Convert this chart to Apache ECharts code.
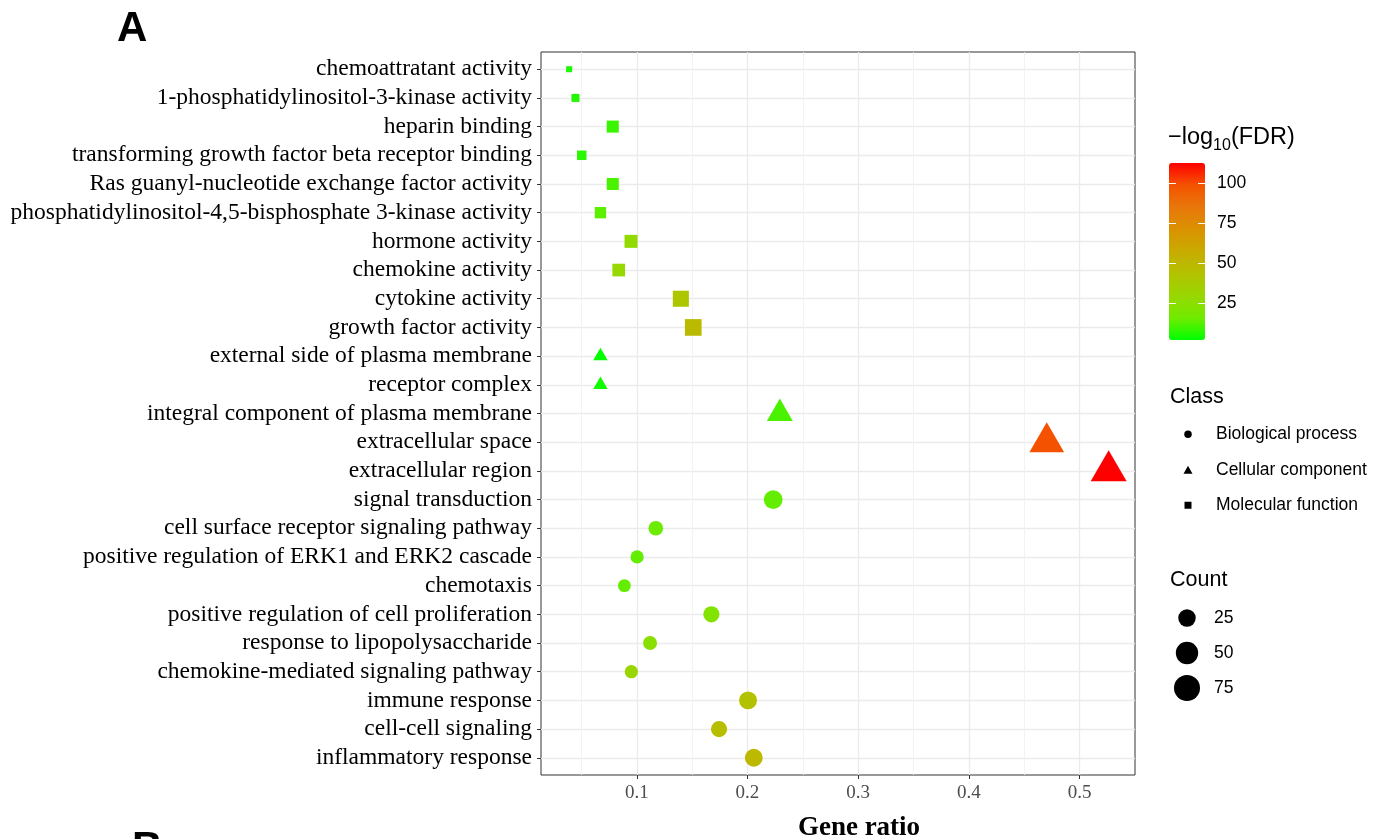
<!DOCTYPE html>
<html>
<head>
<meta charset="utf-8">
<script src="https://cdn.jsdelivr.net/npm/echarts@6.0.0/dist/echarts.min.js"></script>
<style>html,body{margin:0;padding:0;background:#fff;}#chart{width:1389px;height:839px;}</style>
</head>
<body>
<div id="chart"></div>
<script>
// ---- data (top row first) ----
const categories = [
  'chemoattratant activity',
  '1-phosphatidylinositol-3-kinase activity',
  'heparin binding',
  'transforming growth factor beta receptor binding',
  'Ras guanyl-nucleotide exchange factor activity',
  'phosphatidylinositol-4,5-bisphosphate 3-kinase activity',
  'hormone activity',
  'chemokine activity',
  'cytokine activity',
  'growth factor activity',
  'external side of plasma membrane',
  'receptor complex',
  'integral component of plasma membrane',
  'extracellular space',
  'extracellular region',
  'signal transduction',
  'cell surface receptor signaling pathway',
  'positive regulation of ERK1 and ERK2 cascade',
  'chemotaxis',
  'positive regulation of cell proliferation',
  'response to lipopolysaccharide',
  'chemokine-mediated signaling pathway',
  'immune response',
  'cell-cell signaling',
  'inflammatory response'
];
const classNames = ['Biological process', 'Cellular component', 'Molecular function'];
const classOf = [
  'Molecular function','Molecular function','Molecular function','Molecular function','Molecular function',
  'Molecular function','Molecular function','Molecular function','Molecular function','Molecular function',
  'Cellular component','Cellular component','Cellular component','Cellular component','Cellular component',
  'Biological process','Biological process','Biological process','Biological process','Biological process',
  'Biological process','Biological process','Biological process','Biological process','Biological process'
];
const geneRatio = [0.0389, 0.0446, 0.0783, 0.0503, 0.0783, 0.0672, 0.0948, 0.0837, 0.1398, 0.1510,
                   0.0672, 0.0672, 0.2292, 0.4703, 0.5262,
                   0.2232, 0.1172, 0.1003, 0.0888, 0.1674, 0.1120, 0.0951, 0.2005, 0.1743, 0.2057];
const geneCount = [3, 4, 12, 6, 12, 10, 15, 14, 28, 31,
                   6, 6, 33, 73, 80,
                   31, 15, 11, 10, 20, 13, 11, 27, 20, 27];
const negLog10FDR = [5, 6, 9, 7, 11, 13, 27, 29, 41, 48,
                     1.9, 4, 11, 99, 112.5,
                     14, 15, 14, 14, 22, 24, 30, 43, 46, 49];
const xTicks = [0.1, 0.2, 0.3, 0.4, 0.5];
const xMinorTicks = [0.05, 0.15, 0.25, 0.35, 0.45];
const fdrTicks = [25, 50, 75, 100];
const countBreaks = [25, 50, 75];

// ---- scales / styling ----
const FDR_MIN = 1.8, FDR_MAX = 112.5;
const gradientStops = ['#00FF00','#70EB00','#98D700','#B3C200','#C9AB00','#DA9200','#E8770B','#F45300','#FF0000'];
const SHAPE = {
  'Biological process': 'circle',
  'Cellular component': 'triangle',
  'Molecular function': 'rect'
};
function circleD(n) { return 6.8 + 19.9 * Math.sqrt(Math.max(0, n - 3) / 77); }
function sizeFor(shape, n) {
  const d = circleD(n);
  if (shape === 'rect') return d * 0.886;
  if (shape === 'triangle') return [d * 1.347, d * 1.166];
  return d;
}
const rowIdx = categories.map((_, i) => i);
const serif = 'Liberation Serif';
const sans = 'Liberation Sans';

const mainSeries = classNames.map(cls => {
  const shape = SHAPE[cls];
  const data = [];
  categories.forEach((c, i) => {
    if (classOf[i] === cls) data.push({ value: [geneRatio[i], i, geneCount[i], negLog10FDR[i]] });
  });
  return {
    type: 'scatter', name: cls, xAxisIndex: 0, yAxisIndex: 0,
    symbol: shape,
    symbolOffset: shape === 'triangle' ? [0, '-16.667%'] : [0, 0],
    symbolSize: v => sizeFor(shape, v[2]),
    itemStyle: { opacity: 1 },
    emphasis: { disabled: true },
    data: data, z: 5
  };
});

const gridCommon = { outerBoundsMode: 'none', containLabel: false };
const option = {
  backgroundColor: '#ffffff',
  animation: false,
  grid: [
    Object.assign({ left: 541, top: 52, width: 594, height: 723, show: true, borderColor: '#333333', borderWidth: 1, backgroundColor: 'transparent' }, gridCommon),
    Object.assign({ left: 1169, top: 163, width: 36, height: 177 }, gridCommon),
    Object.assign({ left: 1178, top: 416.5, width: 20, height: 106.5 }, gridCommon),
    Object.assign({ left: 1177, top: 600.5, width: 20, height: 105 }, gridCommon)
  ],
  xAxis: [
    { gridIndex: 0, type: 'value', min: 0.0135, max: 0.55, position: 'bottom',
      axisLine: { show: false, onZero: false },
      axisTick: { show: true, length: 4, customValues: xTicks, lineStyle: { color: '#333333' } },
      axisLabel: { customValues: xTicks, formatter: v => String(v), fontFamily: serif, fontSize: 19, color: '#4D4D4D', margin: 9 },
      splitLine: { show: true, lineStyle: { color: '#EBEBEB', width: 1.3 } },
      name: 'Gene ratio', nameLocation: 'middle', nameGap: 40,
      nameTextStyle: { fontFamily: serif, fontSize: 27, fontWeight: 'bold', color: '#000', padding: [0, 0, 0, 42] }
    },
    { gridIndex: 0, type: 'value', min: 0.0135, max: 0.55, position: 'top',
      axisLine: { show: false, onZero: false },
      axisTick: { show: false, customValues: xMinorTicks },
      axisLabel: { show: false, customValues: xMinorTicks },
      splitLine: { show: true, lineStyle: { color: '#F0F0F0', width: 0.8 } }
    },
    { gridIndex: 1, type: 'value', show: false, min: 0, max: 1 },
    { gridIndex: 2, type: 'value', show: false, min: -1, max: 1 },
    { gridIndex: 3, type: 'value', show: false, min: -1, max: 1 }
  ],
  yAxis: [
    { gridIndex: 0, type: 'value', min: -0.6, max: 24.6, inverse: true,
      axisLine: { show: false, onZero: false },
      axisTick: { show: true, length: 4, customValues: rowIdx, lineStyle: { color: '#333333' } },
      axisLabel: { customValues: rowIdx, formatter: v => categories[Math.round(v)], fontFamily: serif, fontSize: 23.5, color: '#000', margin: 9 },
      splitLine: { show: true, lineStyle: { color: '#EBEBEB', width: 1.3 } }
    },
    { gridIndex: 1, type: 'value', min: FDR_MIN, max: FDR_MAX, position: 'right', z: 10,
      axisLine: { show: false, onZero: false },
      axisTick: { show: true, inside: true, length: 7, customValues: fdrTicks, lineStyle: { color: '#ffffff', width: 1 } },
      axisLabel: { customValues: fdrTicks, margin: 12, fontFamily: sans, fontSize: 17.5, color: '#000' },
      splitLine: { show: false }
    },
    { gridIndex: 1, type: 'value', min: FDR_MIN, max: FDR_MAX, position: 'left', z: 10,
      axisLine: { show: false, onZero: false },
      axisTick: { show: true, inside: true, length: 7, customValues: fdrTicks, lineStyle: { color: '#ffffff', width: 1 } },
      axisLabel: { show: false },
      splitLine: { show: false }
    },
    { gridIndex: 2, type: 'category', data: classNames, inverse: true, position: 'right',
      axisLine: { show: false }, axisTick: { show: false }, splitLine: { show: false },
      axisLabel: { margin: 18, fontFamily: sans, fontSize: 17.5, color: '#000' }
    },
    { gridIndex: 3, type: 'category', data: countBreaks.map(String), inverse: true, position: 'right',
      axisLine: { show: false }, axisTick: { show: false }, splitLine: { show: false },
      axisLabel: { margin: 17, fontFamily: sans, fontSize: 17.5, color: '#000' }
    }
  ],
  visualMap: [{
    type: 'continuous', min: FDR_MIN, max: FDR_MAX, dimension: 3, seriesIndex: [0, 1, 2],
    inRange: { color: gradientStops },
    calculable: false, hoverLink: false, orient: 'vertical',
    itemWidth: 36, itemHeight: 177, left: 1169, top: 163, padding: 0,
    text: null, showLabel: false
  }],
  series: mainSeries.concat([
    { type: 'scatter', xAxisIndex: 3, yAxisIndex: 3, silent: true,
      itemStyle: { color: '#000', opacity: 1 },
      data: classNames.map((c, i) => ({
        value: [0, i], symbol: SHAPE[c],
        symbolSize: SHAPE[c] === 'triangle' ? [9, 8] : (SHAPE[c] === 'rect' ? 7 : 7.5)
      }))
    },
    { type: 'scatter', xAxisIndex: 4, yAxisIndex: 4, silent: true,
      itemStyle: { color: '#000', opacity: 1 },
      symbol: 'circle',
      symbolSize: v => circleD(v[2]),
      data: countBreaks.map((c, i) => [0, i, c])
    }
  ]),
  graphic: [
    { type: 'text', x: 117, y: 29, style: { text: 'A', fontFamily: sans, fontSize: 42, fontWeight: 'bold', fill: '#000', align: 'left', verticalAlign: 'middle' } },
    { type: 'text', x: 132, y: 849, style: { text: 'B', fontFamily: sans, fontSize: 42, fontWeight: 'bold', fill: '#000', align: 'left', verticalAlign: 'middle' } },
    { type: 'text', x: 1168, y: 138, style: {
        text: '{a|\u2212log}{s|10}{a|(FDR)}', align: 'left', verticalAlign: 'middle',
        rich: {
          a: { fontFamily: sans, fontSize: 23.5, fill: '#000', lineHeight: 31, verticalAlign: 'middle' },
          s: { fontFamily: sans, fontSize: 16, fill: '#000', lineHeight: 31, verticalAlign: 'bottom' }
        } } },
    { type: 'text', x: 1170, y: 397, style: { text: 'Class', fontFamily: sans, fontSize: 21.5, fill: '#000', align: 'left', verticalAlign: 'middle' } },
    { type: 'text', x: 1170, y: 580, style: { text: 'Count', fontFamily: sans, fontSize: 21.5, fill: '#000', align: 'left', verticalAlign: 'middle' } }
  ]
};

const chart = echarts.init(document.getElementById('chart'), null, { renderer: 'canvas' });
chart.setOption(option);
</script>
</body>
</html>
